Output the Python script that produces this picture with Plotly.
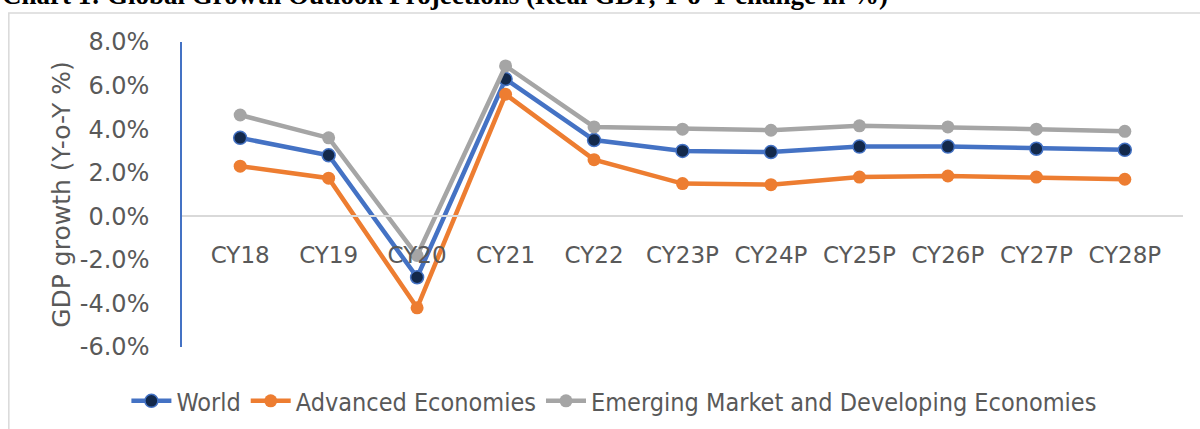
import plotly.graph_objects as go

# dados (crescimento do PIB real, % a/a)
years = ["CY18", "CY19", "CY20", "CY21", "CY22", "CY23P", "CY24P", "CY25P", "CY26P", "CY27P", "CY28P"]
world = [3.6, 2.8, -2.8, 6.3, 3.5, 3.0, 2.95, 3.2, 3.2, 3.1, 3.05]
advanced = [2.3, 1.75, -4.2, 5.6, 2.6, 1.5, 1.45, 1.8, 1.85, 1.8, 1.7]
emerging = [4.65, 3.6, -1.8, 6.9, 4.1, 4.0, 3.95, 4.15, 4.1, 4.0, 3.9]

y_ticks = [-6, -4, -2, 0, 2, 4, 6, 8]
y_ticktext = ["-6.0%", "-4.0%", "-2.0%", "0.0%", "2.0%", "4.0%", "6.0%", "8.0%"]
y_min, y_max = -6, 8

title = "Chart 1: Global Growth Outlook Projections (Real GDP, Y-o-Y change in %)"
fonte = "DejaVu Sans"
cinza_txt = "#595959"

fig = go.Figure()

fig.add_trace(go.Scatter(
    x=years, y=world, mode="lines+markers", name="World",
    line=dict(color="#4472C4", width=4.5),
    marker=dict(size=13, color="#13294B", line=dict(color="#4472C4", width=1.5)),
))
fig.add_trace(go.Scatter(
    x=years, y=advanced, mode="lines+markers", name="Advanced Economies",
    line=dict(color="#ED7D31", width=4.5),
    marker=dict(size=13, color="#ED7D31"),
))
fig.add_trace(go.Scatter(
    x=years, y=emerging, mode="lines+markers", name="Emerging Market and Developing Economies",
    line=dict(color="#A5A5A5", width=4.5),
    marker=dict(size=13, color="#A5A5A5"),
))

# moldura cinza do gráfico (só topo e esquerda aparecem)
fig.add_shape(type="rect", xref="paper", yref="paper",
              x0=-0.173, x1=1.2, y0=-0.6, y1=1.095,
              line=dict(color="#D9D9D9", width=1.5), fillcolor="rgba(0,0,0,0)")

# título cortado no topo
fig.add_annotation(text="<b>" + title + "</b>", xref="paper", yref="paper",
                   x=-0.182, y=1.098, xanchor="left", yanchor="bottom",
                   showarrow=False,
                   font=dict(family="Liberation Serif", size=27, color="#000000"))

fig.update_layout(
    width=1200, height=429,
    margin=dict(l=182, r=17, t=42, b=82),
    paper_bgcolor="white", plot_bgcolor="white",
    font=dict(family=fonte, color=cinza_txt),
    showlegend=True,
    legend=dict(orientation="h", xref="container", yref="container",
                x=0.512, xanchor="center", y=0.065, yanchor="middle",
                font=dict(family="DejaVu Sans Condensed, DejaVu Sans", size=25, color=cinza_txt),
                itemwidth=40, tracegroupgap=0, bgcolor="rgba(0,0,0,0)"),
    xaxis=dict(
        anchor="free", position=(0 - y_min) / (y_max - y_min),
        showline=True, linecolor="#D9D9D9", linewidth=1.5,
        showgrid=False, zeroline=False, ticks="",
        ticklabelstandoff=18,
        tickfont=dict(family=fonte, size=23, color=cinza_txt),
        automargin=False,
    ),
    yaxis=dict(
        range=[y_min, y_max], tickvals=y_ticks, ticktext=y_ticktext,
        showline=True, linecolor="#4472C4", linewidth=1.5,
        showgrid=False, zeroline=False, ticks="",
        ticklabelstandoff=26,
        tickfont=dict(family=fonte, size=24, color=cinza_txt),
        title=dict(text="GDP growth (Y-o-Y %)", standoff=2,
                   font=dict(family=fonte, size=25, color=cinza_txt)),
        automargin=False,
    ),
)

# tira a margem padrão do <body> para o gráfico começar em (0, 0)
fig.write_html("out.html", config={"displayModeBar": False},
               post_script="document.body.style.margin='0';")
